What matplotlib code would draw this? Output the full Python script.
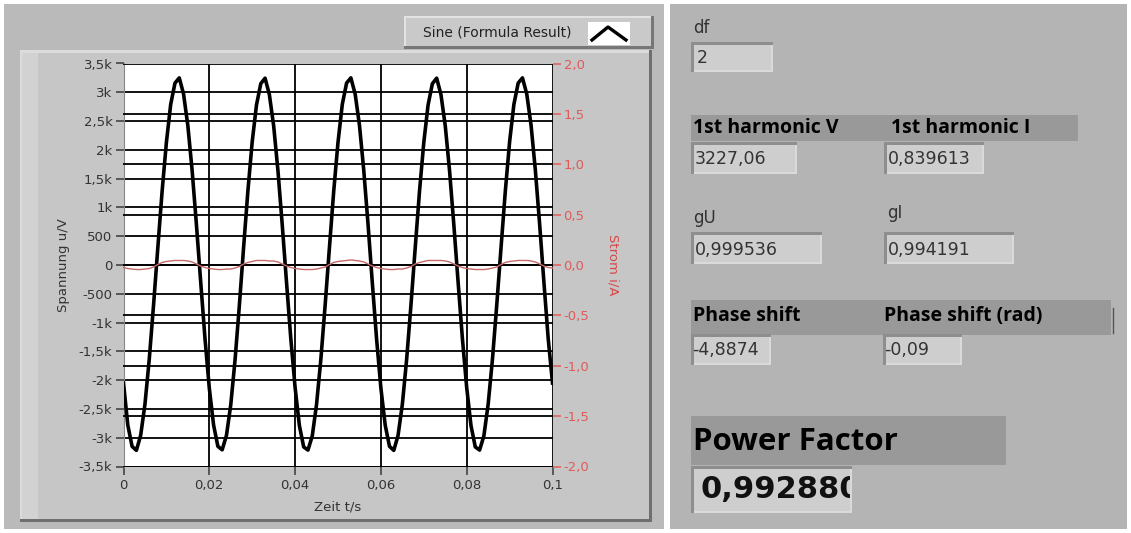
import matplotlib
matplotlib.use('Agg')
import matplotlib.pyplot as plt
from matplotlib.patches import Rectangle
import numpy as np

zeit = [i / 1000 for i in range(101)]

spannung = [
    -2050, -2780, -3150, -3220, -2960, -2420, -1640, -700, 300, 1280,
    2130, 2790, 3160, 3250, 2970, 2420, 1640, 700, -300, -1280,
    -2140, -2780, -3150, -3210, -2960, -2430, -1650, -710, 310, 1290,
    2140, 2780, 3150, 3245, 2960, 2420, 1640, 700, -300, -1280,
    -2130, -2790, -3160, -3215, -2970, -2420, -1640, -700, 300, 1280,
    2130, 2790, 3160, 3250, 2970, 2430, 1650, 710, -310, -1290,
    -2140, -2780, -3150, -3220, -2960, -2420, -1640, -700, 300, 1280,
    2130, 2780, 3150, 3245, 2960, 2420, 1640, 700, -300, -1280,
    -2130, -2790, -3160, -3215, -2970, -2420, -1640, -700, 300, 1280,
    2140, 2790, 3160, 3250, 2970, 2430, 1650, 710, -300, -1280,
    -2050,
]

strom = [
    -0.025, -0.035, -0.04, -0.045, -0.045, -0.04, -0.035, -0.02, 0.005, 0.025,
    0.035, 0.04, 0.045, 0.045, 0.045, 0.04, 0.03, 0.01, -0.01, -0.025,
    -0.035, -0.04, -0.045, -0.045, -0.04, -0.04, -0.03, -0.015, 0.01, 0.025,
    0.035, 0.045, 0.045, 0.045, 0.04, 0.04, 0.03, 0.01, -0.01, -0.025,
    -0.035, -0.04, -0.045, -0.045, -0.045, -0.04, -0.03, -0.02, 0.005, 0.025,
    0.035, 0.04, 0.045, 0.05, 0.045, 0.04, 0.03, 0.01, -0.01, -0.025,
    -0.035, -0.04, -0.045, -0.045, -0.04, -0.04, -0.03, -0.015, 0.01, 0.025,
    0.035, 0.045, 0.045, 0.045, 0.045, 0.04, 0.03, 0.01, -0.01, -0.025,
    -0.035, -0.04, -0.045, -0.045, -0.045, -0.04, -0.03, -0.02, 0.005, 0.025,
    0.035, 0.04, 0.045, 0.045, 0.045, 0.04, 0.03, 0.01, -0.01, -0.025,
    -0.03,
]

u_ticks = [-3500, -3000, -2500, -2000, -1500, -1000, -500, 0, 500, 1000,
           1500, 2000, 2500, 3000, 3500]
u_labels = ['-3,5k', '-3k', '-2,5k', '-2k', '-1,5k', '-1k', '-500', '0', '500',
            '1k', '1,5k', '2k', '2,5k', '3k', '3,5k']
i_ticks = [-2.0, -1.5, -1.0, -0.5, 0.0, 0.5, 1.0, 1.5, 2.0]
i_labels = ['-2,0', '-1,5', '-1,0', '-0,5', '0,0', '0,5', '1,0', '1,5', '2,0']
t_ticks = [0, 0.02, 0.04, 0.06, 0.08, 0.1]
t_labels = ['0', '0,02', '0,04', '0,06', '0,08', '0,1']

# Anzeigen rechts
df_wert = '2'
harm_v = '3227,06'
harm_i = '0,839613'
gU = '0,999536'
gI = '0,994191'
phase = '-4,8874'
phase_rad = '-0,09'
power_factor = '0,992880'

W, H = 1131, 533
fig = plt.figure(figsize=(W / 100, H / 100), dpi=100)
fig.patch.set_facecolor('white')

bg = fig.add_axes([0, 0, 1, 1])
bg.set_xlim(0, W)
bg.set_ylim(H, 0)
bg.axis('off')


def rect(x0, y0, x1, y1, fc, z=1):
    r = Rectangle((x0, y0), x1 - x0, y1 - y0, facecolor=fc, edgecolor='none', zorder=z)
    bg.add_patch(r)
    return r


def box(x0, y0, x1, y1):
    rect(x0, y0, x1, y1, '#8e8e8e', 3)
    rect(x0 + 3, y0 + 3, x1, y1, '#dadada', 3)
    return rect(x0 + 3, y0 + 3, x1 - 2, y1 - 2, '#cecece', 3)


# linke Seite: Graph-Panel
rect(4, 4, 664, 529, '#bababa')
rect(20, 50, 652, 522, '#6f6f6f', 2)
rect(20, 50, 649, 519, '#dcdcdc', 2)
rect(22, 53, 649, 519, '#c6c6c6', 2)
rect(22, 53, 38, 519, '#d2d2d2', 2)

# Legende
rect(404, 16, 654, 49, '#777777', 2)
rect(404, 16, 651, 46, '#e2e2e2', 2)
rect(406, 18, 651, 46, '#c9c9c9', 2)
rect(588, 22, 630, 45, 'white', 3)
bg.plot([592, 608, 626], [40, 27, 40], color='black', lw=2.4, zorder=4)
bg.text(497, 33, 'Sine (Formula Result)', fontsize=10, color='#222222',
        ha='center', va='center', zorder=4)

# rechte Seite
rect(670, 4, 1127, 529, '#b4b4b4')

ax = fig.add_axes([123.5 / W, (H - 466.5) / H, (552.5 - 123.5) / W, (466.5 - 63.5) / H])
ax.set_zorder(5)
ax.set_facecolor('white')
ax.plot(zeit, spannung, color='black', lw=2.6, zorder=4)
ax.set_xlim(0, 0.1)
ax.set_ylim(-3500, 3500)
ax.set_yticks(u_ticks)
ax.set_yticklabels(u_labels)
ax.set_xticks(t_ticks)
ax.set_xticklabels(t_labels)
ax.grid(True, color='black', lw=1.3)
ax.tick_params(axis='both', direction='out', length=6, width=1.2, color='#444444',
               labelsize=9.5, labelcolor='#333333', pad=2)
ax.tick_params(axis='x', pad=3)
for s in ax.spines.values():
    s.set_visible(False)
ax.spines['left'].set_visible(True)
ax.spines['left'].set_color('#888888')

ax2 = ax.twinx()
ax2.plot(zeit, strom, color='#c86868', lw=1.0, zorder=5)
ax2.set_ylim(-2, 2)
ax2.set_yticks(i_ticks)
ax2.set_yticklabels(i_labels)
ax2.grid(True, color='black', lw=1.3)
ax2.tick_params(axis='y', direction='out', length=6, width=1.2, color='#e06464',
                labelsize=9.5, labelcolor='#e05a5a', pad=2)
for s in ax2.spines.values():
    s.set_visible(False)

bg.text(64, 265, 'Spannung u/V', rotation=90, fontsize=9.5, color='#333333',
        ha='center', va='center', zorder=4)
bg.text(613, 265, 'Strom i/A', rotation=270, fontsize=9.5, color='#d84848',
        ha='center', va='center', zorder=4)
bg.text(338, 507, 'Zeit t/s', fontsize=9.5, color='#333333',
        ha='center', va='center', zorder=4)

# Anzeigeelemente rechts
lab = dict(fontsize=12, color='#333333', va='center', ha='left', zorder=4)
val = dict(fontsize=12.5, color='#333333', va='center', ha='left', zorder=4)
bold = dict(family='Open Sans', fontweight='bold', color='black', va='center',
            ha='left', zorder=4)

bg.text(693, 28, 'df', **lab)
box(691, 42, 773, 72)
bg.text(697, 58, df_wert, **val)

rect(691, 115, 1078, 141, '#999999', 2)
bg.text(693, 128, '1st harmonic V', fontsize=14, **bold)
bg.text(891, 128, '1st harmonic I', fontsize=14, **bold)
box(691, 142, 797, 174)
bg.text(695, 159, harm_v, **val)
box(884, 142, 984, 174)
bg.text(888, 159, harm_i, **val)

bg.text(693, 218, 'gU', **lab)
bg.text(887, 213, 'gI', **lab)
box(691, 232, 822, 264)
bg.text(695, 250, gU, **val)
box(884, 232, 1014, 264)
bg.text(888, 250, gI, **val)

rect(691, 300, 1111, 335, '#999999', 2)
bg.plot([1113, 1113], [308, 333], color='#555555', lw=1, zorder=3)
bg.text(693, 316, 'Phase shift', fontsize=14, **bold)
bg.text(884, 316, 'Phase shift (rad)', fontsize=14, **bold)
box(691, 334, 771, 365)
bg.text(692, 350, phase, **val)
box(883, 334, 962, 365)
bg.text(884, 350, phase_rad, **val)

rect(691, 416, 1006, 465, '#999999', 2)
bg.text(693, 442, 'Power Factor', fontsize=22.5, **bold)
clip = box(691, 466, 852, 513)
t = bg.text(700, 490, power_factor, fontsize=22, fontweight='bold', color='#111111',
            va='center', ha='left', zorder=4, clip_on=True)
t.set_clip_path(clip)

fig.savefig('out.png', dpi=100, facecolor=fig.get_facecolor())
